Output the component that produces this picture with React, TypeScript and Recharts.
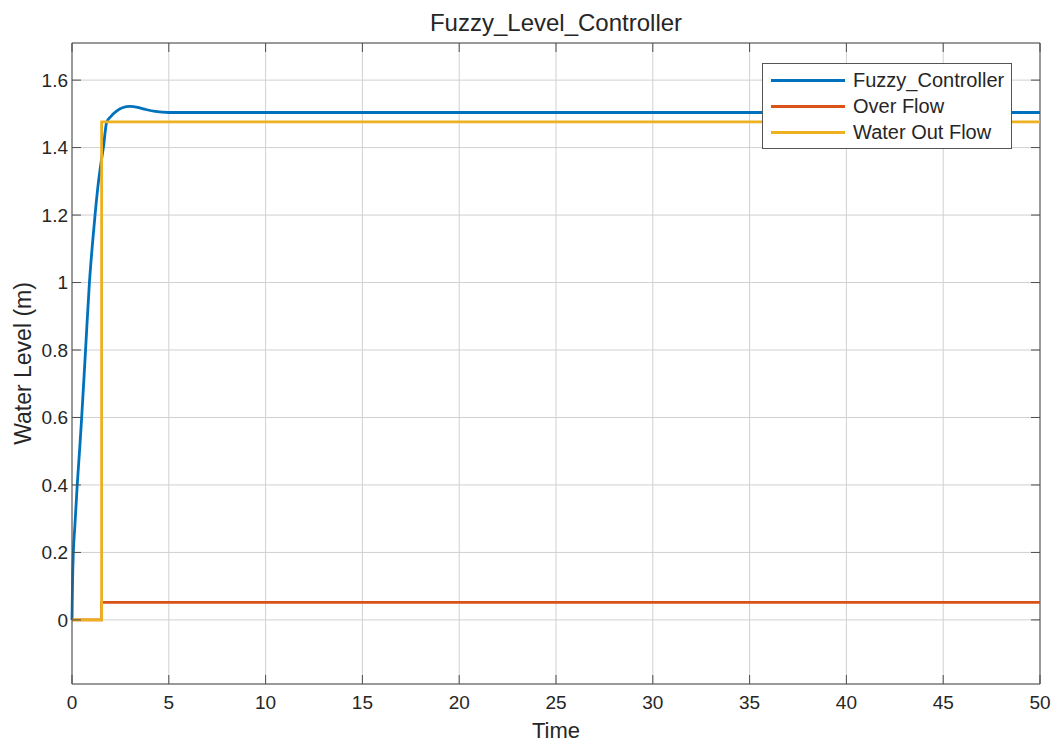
import { CartesianGrid, Line, LineChart, ReferenceLine, XAxis, YAxis } from "recharts"

// Fuzzy controller response (time in s, level in m)
const fuzzyTime = [0, 0.03, 0.07, 0.15, 0.27, 0.4, 0.5, 0.7, 0.9, 1.05, 1.19, 1.35, 1.5, 1.62, 1.79, 2.0, 2.3, 2.6, 3.0, 3.4, 3.8, 4.3, 5.0, 6.0, 10, 20, 30, 40, 50]
const fuzzyLevel = [0, 0.12, 0.2, 0.28, 0.4, 0.51, 0.6, 0.8, 1.0, 1.11, 1.2, 1.29, 1.355, 1.4, 1.475, 1.492, 1.508, 1.518, 1.522, 1.519, 1.513, 1.507, 1.504, 1.504, 1.504, 1.504, 1.504, 1.504, 1.504]

// step signals share one time base
const stepTime = [0, 1.53, 1.53, 50]
const overFlowLevel = [0, 0, 0.052, 0.052]
const waterOutLevel = [0, 0, 1.476, 1.476]

const seriesKeys = ["fuzzy", "over", "water"]
const seriesNames = ["Fuzzy_Controller", "Over Flow", "Water Out Flow"]
const seriesColors = ["#0072BD", "#D95319", "#EDB120"]

const xTicks = [0, 5, 10, 15, 20, 25, 30, 35, 40, 45, 50]
const yTicks = [0, 0.2, 0.4, 0.6, 0.8, 1, 1.2, 1.4, 1.6]

type Row = { t: number; fuzzy?: number; over?: number; water?: number }
const rows: Row[] = [
  ...fuzzyTime.map((t, i) => ({ t, fuzzy: fuzzyLevel[i] })),
  ...stepTime.map((t, i) => ({ t, over: overFlowLevel[i], water: waterOutLevel[i] })),
]
const data = rows.map((r, i) => ({ ...r, i })).sort((a, b) => a.t - b.t || a.i - b.i)

const FONT = "'Liberation Sans', Arial, Helvetica, sans-serif"
const TEXT = "#262626"
const AXIS = "#4d4d4d"
const TOP = 43
const BOTTOM = 684
const LEFT = 72
const RIGHT = 1040

function XTick(props: any) {
  const { x, payload } = props
  return (
    <g>
      <line x1={x} x2={x} y1={BOTTOM} y2={BOTTOM - 9} stroke={AXIS} />
      <line x1={x} x2={x} y1={TOP} y2={TOP + 9} stroke={AXIS} />
      <text x={x} y={BOTTOM + 25} textAnchor="middle" fontSize={19} fontFamily={FONT} fill={TEXT}>
        {payload.value}
      </text>
    </g>
  )
}

function YTick(props: any) {
  const { y, payload } = props
  return (
    <g>
      <line x1={LEFT} x2={LEFT + 9} y1={y} y2={y} stroke={AXIS} />
      <line x1={RIGHT} x2={RIGHT - 9} y1={y} y2={y} stroke={AXIS} />
      <text x={LEFT - 4} y={y} dy="0.36em" textAnchor="end" fontSize={19} fontFamily={FONT} fill={TEXT}>
        {payload.value}
      </text>
    </g>
  )
}

function LegendBox() {
  return (
    <div
      style={{
        position: "absolute",
        left: 762,
        top: 63,
        width: 248,
        padding: "3px 0",
        background: "#fff",
        border: "1px solid #555",
        fontFamily: FONT,
        fontSize: 20,
        color: TEXT,
      }}
    >
      {seriesNames.map((name, i) => (
        <div key={name} style={{ display: "flex", alignItems: "center", height: 26 }}>
          <span style={{ marginLeft: 8, width: 74, borderTop: `3px solid ${seriesColors[i]}` }} />
          <span style={{ marginLeft: 8, whiteSpace: "nowrap" }}>{name}</span>
        </div>
      ))}
    </div>
  )
}

export default function App() {
  return (
    <div style={{ position: "absolute", left: 0, top: 0, width: 1056, height: 743, background: "#fff" }}>
      <div
        style={{
          position: "absolute",
          left: LEFT,
          width: RIGHT - LEFT,
          top: 11,
          textAlign: "center",
          fontFamily: FONT,
          fontSize: 24,
          lineHeight: "24px",
          color: TEXT,
        }}
      >
        Fuzzy_Level_Controller
      </div>
      <LineChart data={data} width={1056} height={743} margin={{ top: TOP, right: 1056 - RIGHT, bottom: 5, left: 12 }}>
        <CartesianGrid stroke="#d0d0d0" strokeWidth={1} />
        <XAxis
          type="number"
          dataKey="t"
          domain={[0, 50]}
          ticks={xTicks}
          height={54}
          tickSize={2}
          tickMargin={2}
          tickLine={false}
          stroke={AXIS}
          tick={<XTick />}
          label={{ value: "Time", position: "insideBottom", offset: 0, fontSize: 22, fontFamily: FONT, fill: TEXT }}
        />
        <YAxis
          type="number"
          domain={[-0.19, 1.71]}
          ticks={yTicks}
          width={60}
          tickSize={2}
          tickMargin={2}
          tickLine={false}
          stroke={AXIS}
          tick={<YTick />}
          label={{
            value: "Water Level (m)",
            angle: -90,
            position: "insideLeft",
            offset: 11,
            fontSize: 23,
            fontFamily: FONT,
            fill: TEXT,
            style: { textAnchor: "middle" },
          }}
        />
        <ReferenceLine y={1.71} stroke={AXIS} />
        <ReferenceLine x={50} stroke={AXIS} />
        {seriesKeys.map((key, i) => (
          <Line
            key={key}
            dataKey={key}
            name={seriesNames[i]}
            type={key === "fuzzy" ? "monotone" : "linear"}
            connectNulls
            stroke={seriesColors[i]}
            strokeWidth={2.8}
            dot={false}
            isAnimationActive={false}
          />
        ))}
      </LineChart>
      {/* keep the strip right of the axes box blank */}
      <div style={{ position: "absolute", left: RIGHT + 1, top: 0, width: 1056 - RIGHT, height: BOTTOM + 4, background: "#fff" }} />
      <LegendBox />
    </div>
  )
}
